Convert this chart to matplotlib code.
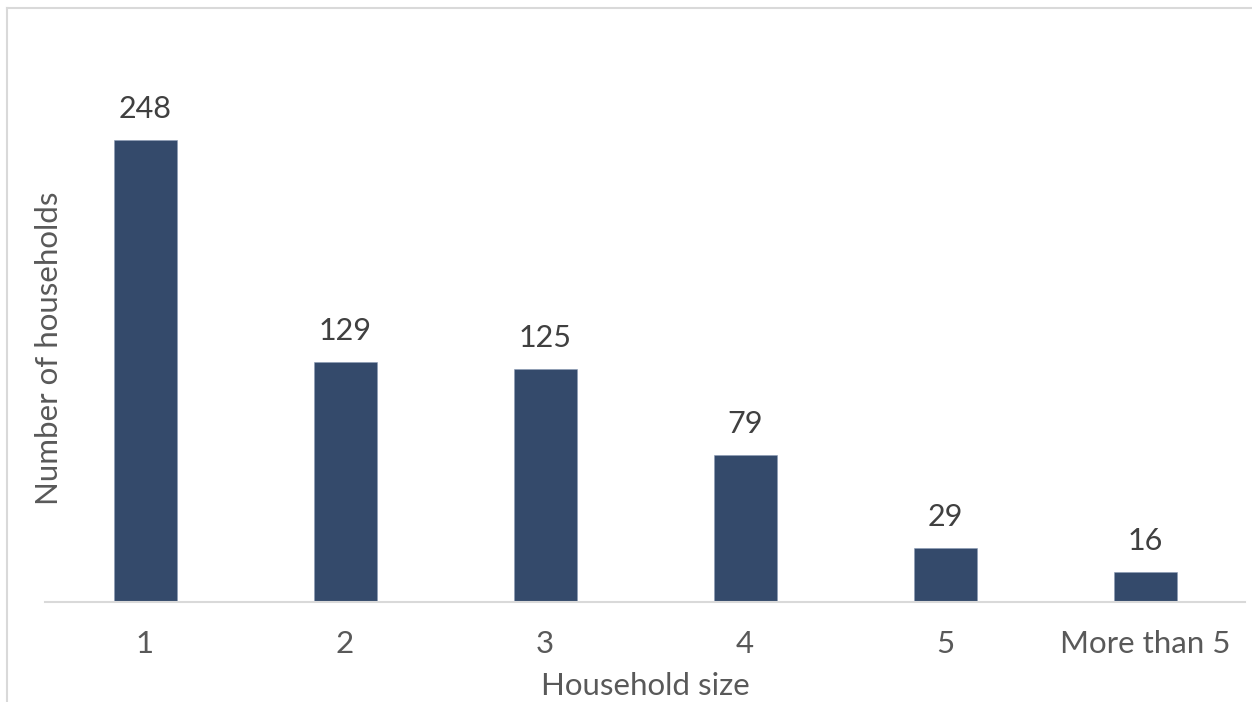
import matplotlib.pyplot as plt
from matplotlib.lines import Line2D

categories = ["1", "2", "3", "4", "5", "More than 5"]
households = [248, 129, 125, 79, 29, 16]

W, H = 1252, 702
plt.rcParams['font.family'] = ['Lato', 'DejaVu Sans']

fig = plt.figure(figsize=(W / 100, H / 100), dpi=100)
ax = fig.add_axes([45 / W, 100 / H, 1200 / W, (602 - 43) / H])

x = range(len(categories))
bars = ax.bar(x, households, width=0.315, color="#344a6b", edgecolor="#8a9ab5", linewidth=0.4)

for i, v in enumerate(households):
    ax.text(i, v + 9, str(v), ha="center", va="bottom", fontsize=22, color="#404040")

ax.set_xlim(-0.5, len(categories) - 0.5)
ax.set_ylim(0, 300)
ax.set_xticks(list(x))
ax.set_xticklabels(categories, fontsize=22.5, color="#595959")
ax.tick_params(axis="x", length=0, pad=20)
ax.set_yticks([])
for s in ["top", "right", "left"]:
    ax.spines[s].set_visible(False)
ax.spines["bottom"].set_color("#d9d9d9")
ax.spines["bottom"].set_linewidth(1.5)

ax.set_xlabel("Household size", fontsize=22.5, color="#595959", labelpad=10)
fig.text(49 / W, 1 - 348 / H, "Number of households", rotation=90, ha="center", va="center",
         fontsize=22.5, color="#595959")

# outer chart frame (left and top edges visible in the crop)
fig.add_artist(Line2D([7 / W, 7 / W], [0, 1 - 8 / H], transform=fig.transFigure, color="#d9d9d9", lw=1.5))
fig.add_artist(Line2D([7 / W, 1], [1 - 8 / H, 1 - 8 / H], transform=fig.transFigure, color="#d9d9d9", lw=1.5))

fig.savefig("out.png", dpi=100)
